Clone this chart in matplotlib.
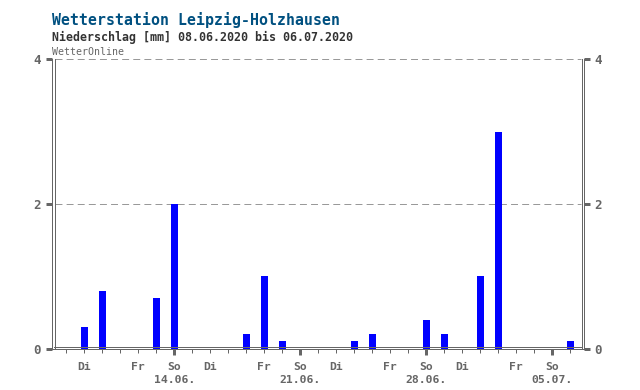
import numpy as np
import matplotlib.pyplot as plt
from matplotlib.transforms import offset_copy

# daily precipitation 08.06.2020 .. 06.07.2020 (mm)
dates = ['08.06.', '09.06.', '10.06.', '11.06.', '12.06.', '13.06.', '14.06.',
         '15.06.', '16.06.', '17.06.', '18.06.', '19.06.', '20.06.', '21.06.',
         '22.06.', '23.06.', '24.06.', '25.06.', '26.06.', '27.06.', '28.06.',
         '29.06.', '30.06.', '01.07.', '02.07.', '03.07.', '04.07.', '05.07.',
         '06.07.']
weekdays = ['Mo', 'Di', 'Mi', 'Do', 'Fr', 'Sa', 'So'] * 4 + ['Mo']
precip = [0, 0.3, 0.8, 0, 0, 0.7, 2.0, 0, 0, 0, 0.2, 1.0, 0.1, 0, 0,
          0, 0.1, 0.2, 0, 0, 0.4, 0.2, 0, 1.0, 3.0, 0, 0, 0, 0.1]
shown_days = ['Di', 'Fr', 'So']
yticks = [0, 2, 4]

gray = '#666666'
px = 0.72  # one pixel in points at dpi 100
mono = 'DejaVu Sans Mono'

fig = plt.figure(figsize=(6.4, 3.9), dpi=100)
ax = fig.add_axes([52 / 640, (390 - 348.5) / 390, 531.5 / 640, (348.5 - 59.3) / 390])

x = np.arange(len(precip))
ax.bar(x, precip, width=0.37, color='#0000ff', zorder=3)

ax.set_xlim(-0.79, 28.73)
ax.set_ylim(0, 4)

# frame: outer spines + inner line 2px inside
for s in ['left', 'right', 'bottom']:
    ax.spines[s].set_color(gray)
    ax.spines[s].set_linewidth(px)
ax.spines['top'].set_visible(False)
tl = offset_copy(ax.transAxes, fig=fig, x=2.5, y=0, units='dots')
tr = offset_copy(ax.transAxes, fig=fig, x=-2, y=0, units='dots')
tb = offset_copy(ax.transAxes, fig=fig, x=0, y=2, units='dots')
ax.plot([0, 0], [0, 1], transform=tl, color=gray, lw=px, zorder=5, clip_on=False)
ax.plot([1, 1], [0, 1], transform=tr, color=gray, lw=px, zorder=5, clip_on=False)
ax.plot([0.004, 0.996], [0, 0], transform=tb, color=gray, lw=px, zorder=5, clip_on=False)

# dashed grid
for v in yticks[1:]:
    ax.axhline(v, xmin=0.006, xmax=0.995, color='#999999', lw=px,
               dashes=(5 / 0.72, 3 / 0.72), zorder=1, clip_on=False)

# y ticks both sides
ax.set_yticks(yticks)
ax.set_yticklabels([str(v) for v in yticks], fontfamily=mono,
                   fontweight='bold', fontsize=9, color=gray)
ax.tick_params(axis='y', which='major', left=True, right=True,
               labelleft=True, labelright=True, length=6 * px,
               width=3 * px, color=gray, pad=5 * px, direction='out')

# x ticks: every day, labels for Di/Fr/So, date under So
labels = []
for d, w in zip(dates, weekdays):
    if w == 'So':
        labels.append(w + '\n' + d)
    elif w in shown_days:
        labels.append(w)
    else:
        labels.append('')
ax.set_xticks(x)
ax.set_xticklabels(labels, fontfamily=mono, fontweight='bold',
                   fontsize=8.2, color=gray, linespacing=1.4)
ax.tick_params(axis='x', which='major', length=4 * px, width=px,
               color=gray, pad=9 * px, direction='out')
for t, w in zip(ax.xaxis.get_major_ticks(), weekdays):
    if w == 'So':
        t.tick1line.set_markersize(6 * px)
        t.tick1line.set_markeredgewidth(3 * px)

fig.text(52 / 640, 1 - 20 / 390, 'Wetterstation Leipzig-Holzhausen',
         fontfamily=mono, fontweight='bold', fontsize=10.7,
         color='#005080', va='center', ha='left')
fig.text(52 / 640, 1 - 37.5 / 390, 'Niederschlag [mm] 08.06.2020 bis 06.07.2020',
         fontfamily=mono, fontweight='bold', fontsize=8.4,
         color='#333333', va='center', ha='left')
fig.text(52 / 640, 1 - 52 / 390, 'WetterOnline',
         fontfamily=mono, fontsize=7.1, color=gray, va='center', ha='left')

fig.savefig('out.png', dpi=100)
